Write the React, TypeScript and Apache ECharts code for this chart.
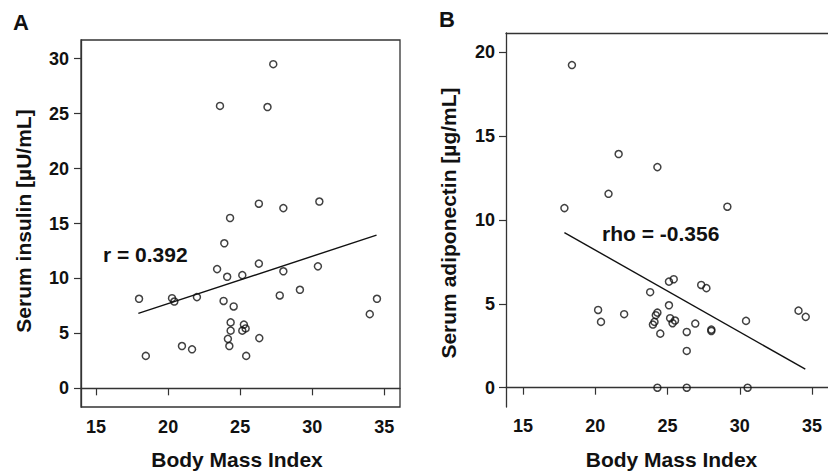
import React, { useEffect, useRef } from "react";
import * as echarts from "echarts";

const bmiA = [23.6, 27.3, 26.9, 24.3, 26.3, 28.0, 30.5, 23.9, 23.4, 24.1, 25.15, 26.3, 28.0, 30.4, 17.98, 20.27, 20.43, 22.0, 23.85, 24.55, 27.75, 29.15, 34.0, 34.5, 24.34, 24.34, 24.15, 24.25, 25.26, 25.15, 25.38, 25.42, 26.33, 18.45, 20.96, 21.66];
const insulinA = [25.7, 29.5, 25.6, 15.5, 16.8, 16.4, 17.0, 13.2, 10.85, 10.15, 10.3, 11.35, 10.65, 11.1, 8.15, 8.2, 7.9, 8.3, 7.95, 7.45, 8.45, 8.97, 6.75, 8.15, 6.0, 5.25, 4.5, 3.85, 5.8, 5.25, 5.45, 2.95, 4.57, 2.95, 3.85, 3.55];

const bmiB = [18.39, 21.62, 24.3, 20.92, 17.87, 29.14, 23.8, 25.1, 25.43, 27.33, 27.69, 25.1, 20.2, 20.4, 22.0, 24.3, 24.19, 24.1, 23.99, 25.18, 25.52, 25.35, 24.5, 26.33, 26.92, 28.03, 28.03, 26.33, 24.3, 26.33, 30.54, 30.43, 34.06, 34.56];
const adipoB = [19.22, 13.92, 13.14, 11.55, 10.7, 10.78, 5.69, 6.32, 6.46, 6.12, 5.93, 4.91, 4.63, 3.92, 4.38, 4.47, 4.32, 3.92, 3.76, 4.14, 4.0, 3.84, 3.22, 3.32, 3.82, 3.46, 3.38, 2.19, 0, 0, 0, 3.98, 4.59, 4.22];

const fitA = [[17.93, 6.82], [34.47, 13.94]];
const fitB = [[17.87, 9.24], [34.53, 1.1]];

const xTicks = [15, 20, 25, 30, 35];
const yTicksA = [0, 5, 10, 15, 20, 25, 30];
const yTicksB = [0, 5, 10, 15, 20];

const FONT = "'Liberation Sans', Arial, Helvetica, sans-serif";
const INK = "#111";
const AXIS = "#333";

function xAxisCfg(gridIndex: number, min: number, max: number, margin: number) {
  return {
    type: "value",
    gridIndex,
    min,
    max,
    splitLine: { show: false },
    axisLine: { show: true, lineStyle: { color: AXIS, width: 1.3 } },
    axisTick: { show: true, length: 7, customValues: xTicks, lineStyle: { color: AXIS, width: 1.2 } },
    axisLabel: {
      customValues: xTicks,
      margin,
      color: INK,
      fontFamily: FONT,
      fontWeight: "bold",
      fontSize: 18,
      showMinLabel: true,
      showMaxLabel: true,
    },
  };
}

function topEdgeAxis(gridIndex: number, min: number, max: number) {
  return {
    type: "value",
    gridIndex,
    position: "top",
    min,
    max,
    splitLine: { show: false },
    axisLine: { show: true, lineStyle: { color: AXIS, width: 1.3 } },
    axisTick: { show: false },
    axisLabel: { show: false },
  };
}

function yAxisCfg(gridIndex: number, min: number, max: number, ticks: number[], margin: number) {
  return {
    type: "value",
    gridIndex,
    min,
    max,
    splitLine: { show: false },
    axisLine: { show: true, lineStyle: { color: AXIS, width: 1.3 } },
    axisTick: { show: true, length: 7, customValues: ticks, lineStyle: { color: AXIS, width: 1.2 } },
    axisLabel: {
      customValues: ticks,
      margin,
      color: INK,
      fontFamily: FONT,
      fontWeight: "bold",
      fontSize: 18,
    },
  };
}

function zip(xs: number[], ys: number[]) {
  return xs.map((x, i) => [x, ys[i]]);
}

export default function App() {
  const ref = useRef<HTMLDivElement>(null);
  useEffect(() => {
    if (!ref.current) return;
    const chart = echarts.init(ref.current, undefined, { renderer: "svg" });
    const scatterStyle = {
      color: "rgba(0,0,0,0)",
      borderColor: INK,
      borderWidth: 1.5,
    };
    const txt = (text: string, x: number, y: number, size: number, extra: any = {}) => ({
      type: "text",
      x,
      y,
      silent: true,
      ...extra,
      style: {
        text,
        fill: INK,
        font: `bold ${size}px ${FONT}`,
        textAlign: extra.align || "left",
        textVerticalAlign: "middle",
      },
    });
    chart.setOption({
      animation: false,
      backgroundColor: "#fff",
      grid: [
        { left: 81, top: 40, width: 319, height: 367, show: true, borderColor: AXIS, borderWidth: 1.3, backgroundColor: "transparent" },
        { left: 506, top: 33, width: 329, height: 374, show: false },
      ],
      xAxis: [xAxisCfg(0, 13.95, 36.1, 11), xAxisCfg(1, 13.83, 36.1, 10), topEdgeAxis(1, 13.83, 36.1)],
      yAxis: [yAxisCfg(0, -1.7, 31.7, yTicksA, 12), yAxisCfg(1, -1.15, 21.13, yTicksB, 11)],
      series: [
        {
          type: "scatter",
          xAxisIndex: 0,
          yAxisIndex: 0,
          data: zip(bmiA, insulinA),
          symbol: "circle",
          symbolSize: 7,
          itemStyle: scatterStyle,
          silent: true,
        },
        {
          type: "line",
          xAxisIndex: 0,
          yAxisIndex: 0,
          data: fitA,
          showSymbol: false,
          symbol: "none",
          lineStyle: { color: INK, width: 1.4 },
          silent: true,
        },
        {
          type: "scatter",
          xAxisIndex: 1,
          yAxisIndex: 1,
          data: zip(bmiB, adipoB),
          symbol: "circle",
          symbolSize: 7,
          itemStyle: scatterStyle,
          silent: true,
        },
        {
          type: "line",
          xAxisIndex: 1,
          yAxisIndex: 1,
          data: fitB,
          showSymbol: false,
          symbol: "none",
          lineStyle: { color: INK, width: 1.4 },
          silent: true,
        },
      ],
      graphic: [
        txt("A", 13, 22, 22),
        txt("B", 439, 19, 22),
        txt("r = 0.392", 103, 254, 21),
        txt("rho = -0.356", 602, 233.5, 21),
        txt("Body Mass Index", 237, 459, 21, { align: "center" }),
        txt("Body Mass Index", 671.5, 459, 21, { align: "center" }),
        txt("Serum insulin [µU/mL]", 23, 221, 21, { align: "center", rotation: Math.PI / 2 }),
        txt("Serum adiponectin [µg/mL]", 448, 223, 21, { align: "center", rotation: Math.PI / 2 }),
      ],
    });
    return () => chart.dispose();
  }, []);
  return (
    <div
      ref={ref}
      style={{ position: "fixed", left: 0, top: 0, width: 828, height: 472, background: "#fff" }}
    />
  );
}
